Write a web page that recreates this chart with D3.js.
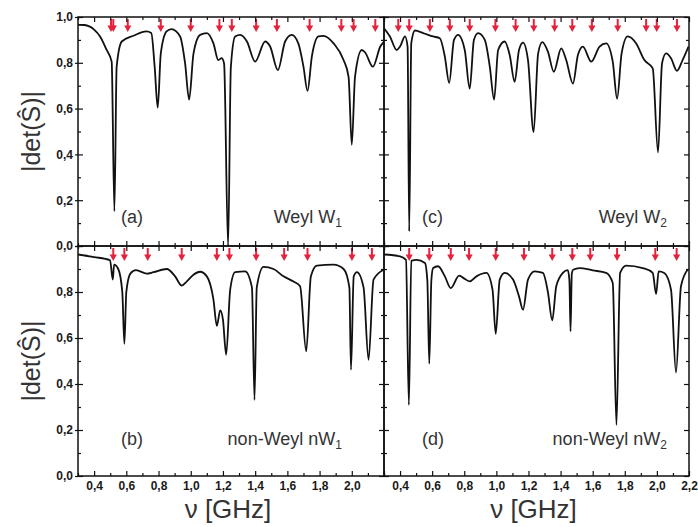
<!DOCTYPE html>
<html>
<head>
<meta charset="utf-8">
<script src="https://cdn.jsdelivr.net/npm/d3@7"></script>
<style>
  body { margin: 0; background: #fff; }
  svg { display: block; }
  text { font-family: Arial, "Liberation Sans", sans-serif; }
</style>
</head>
<body>
<div id="chart"></div>
<script>
// (a) Weyl W1 : frequency [GHz] and |det S|
var nuA  = [0.30, 0.34, 0.40, 0.437, 0.478, 0.509, 0.526, 0.54, 0.572, 0.644, 0.724, 0.755, 0.776, 0.795, 0.814, 0.85, 0.88, 0.934, 0.965, 0.99,
            1.017, 1.058, 1.10, 1.141, 1.171, 1.192, 1.207, 1.232, 1.249, 1.276, 1.307, 1.349, 1.40, 1.462, 1.493, 1.541, 1.586, 1.627, 1.668, 1.70,
            1.725, 1.752, 1.793, 1.824, 1.887, 1.949, 1.98, 2.00, 2.02, 2.062, 2.083, 2.131, 2.177, 2.20];
var detA = [0.966, 0.965, 0.945, 0.915, 0.856, 0.805, 0.152, 0.783, 0.893, 0.918, 0.937, 0.93, 0.783, 0.604, 0.84, 0.937, 0.947, 0.915, 0.797, 0.639,
            0.84, 0.922, 0.93, 0.885, 0.812, 0.82, 0.797, 0.0, 0.78, 0.915, 0.922, 0.893, 0.805, 0.893, 0.871, 0.768, 0.893, 0.922, 0.885, 0.783,
            0.677, 0.827, 0.915, 0.918, 0.885, 0.812, 0.739, 0.442, 0.739, 0.856, 0.845, 0.783, 0.871, 0.893];
var arrowsA = [0.505, 0.519, 0.609, 0.814, 1.000, 1.178, 1.255, 1.406, 1.535, 1.738, 1.935, 2.011, 2.146];

// (b) non-Weyl nW1
var nuB  = [0.30, 0.40, 0.499, 0.516, 0.524, 0.55, 0.575, 0.588, 0.60, 0.625, 0.66, 0.727, 0.768, 0.851, 0.903, 0.944, 0.976, 1.017, 1.058, 1.10,
            1.141, 1.162, 1.183, 1.20, 1.22, 1.245, 1.276, 1.338, 1.38, 1.396, 1.41, 1.452, 1.514, 1.576, 1.638, 1.679, 1.717, 1.746, 1.783, 1.887,
            1.949, 1.985, 1.995, 2.012, 2.032, 2.073, 2.104, 2.135, 2.198];
var detB = [0.963, 0.952, 0.938, 0.854, 0.919, 0.90, 0.80, 0.575, 0.80, 0.88, 0.895, 0.88, 0.886, 0.90, 0.868, 0.828, 0.846, 0.875, 0.888, 0.868,
            0.767, 0.653, 0.72, 0.68, 0.527, 0.81, 0.886, 0.89, 0.82, 0.331, 0.82, 0.909, 0.90, 0.868, 0.846, 0.825, 0.542, 0.868, 0.915, 0.919,
            0.90, 0.82, 0.462, 0.868, 0.886, 0.82, 0.505, 0.854, 0.897];
var arrowsB = [0.519, 0.588, 0.733, 0.944, 1.162, 1.24, 1.406, 1.58, 1.725, 2.001, 2.125];

// (c) Weyl W2
var nuC  = [0.30, 0.337, 0.379, 0.40, 0.431, 0.447, 0.457, 0.47, 0.493, 0.544, 0.606, 0.648, 0.679, 0.706, 0.736, 0.762, 0.803, 0.834, 0.86, 0.886,
            0.928, 0.959, 0.986, 1.011, 1.052, 1.083, 1.114, 1.141, 1.166, 1.197, 1.232, 1.26, 1.286, 1.321, 1.358, 1.404, 1.435, 1.477, 1.508, 1.539,
            1.591, 1.643, 1.684, 1.725, 1.752, 1.78, 1.818, 1.87, 1.922, 1.974, 2.007, 2.032, 2.057, 2.088, 2.125, 2.16, 2.197];
var detC = [0.951, 0.915, 0.856, 0.871, 0.915, 0.87, 0.064, 0.886, 0.941, 0.93, 0.915, 0.907, 0.827, 0.712, 0.90, 0.922, 0.856, 0.687, 0.90, 0.93,
            0.90, 0.783, 0.639, 0.856, 0.893, 0.834, 0.717, 0.856, 0.888, 0.812, 0.497, 0.84, 0.89, 0.849, 0.761, 0.863, 0.812, 0.709, 0.834, 0.871,
            0.805, 0.871, 0.885, 0.805, 0.643, 0.84, 0.915, 0.885, 0.812, 0.776, 0.409, 0.797, 0.841, 0.82, 0.765, 0.812, 0.871];
var arrowsC = [0.389, 0.457, 0.586, 0.71, 0.834, 0.994, 1.12, 1.233, 1.363, 1.473, 1.595, 1.756, 1.933, 1.999, 2.125];

// (d) non-Weyl nW2
var nuD  = [0.30, 0.40, 0.437, 0.455, 0.47, 0.503, 0.555, 0.57, 0.582, 0.595, 0.606, 0.637, 0.679, 0.716, 0.768, 0.803, 0.834, 0.876, 0.938, 0.976,
            0.996, 1.021, 1.052, 1.104, 1.141, 1.166, 1.197, 1.238, 1.29, 1.321, 1.348, 1.373, 1.414, 1.445, 1.455, 1.462, 1.47, 1.478, 1.518, 1.601,
            1.684, 1.725, 1.748, 1.771, 1.808, 1.912, 1.974, 1.995, 2.011, 2.046, 2.088, 2.119, 2.15, 2.191];
var detD = [0.963, 0.955, 0.94, 0.309, 0.935, 0.94, 0.926, 0.85, 0.488, 0.85, 0.904, 0.912, 0.868, 0.817, 0.871, 0.857, 0.846, 0.868, 0.883, 0.81,
            0.618, 0.854, 0.883, 0.854, 0.781, 0.723, 0.854, 0.89, 0.883, 0.80, 0.677, 0.825, 0.883, 0.895, 0.85, 0.629, 0.88, 0.897, 0.904, 0.894,
            0.883, 0.839, 0.222, 0.883, 0.915, 0.904, 0.883, 0.791, 0.89, 0.883, 0.81, 0.45, 0.825, 0.897];
var arrowsD = [0.457, 0.582, 0.716, 0.83, 0.996, 1.172, 1.348, 1.473, 1.585, 1.752, 1.99, 2.123];

// axis ticks
var xMajor = [0.4, 0.6, 0.8, 1.0, 1.2, 1.4, 1.6, 1.8, 2.0, 2.2];
var xMinor = [0.3, 0.5, 0.7, 0.9, 1.1, 1.3, 1.5, 1.7, 1.9, 2.1];
var yMajor = [0, 0.2, 0.4, 0.6, 0.8, 1.0];
var yMinor = [0.1, 0.3, 0.5, 0.7, 0.9];

var width = 698, height = 527;
var fmt = d3.formatLocale({decimal: ",", thousands: ".", grouping: [3], currency: ["", ""]}).format(".1f");

var svg = d3.select("#chart")
  .append("svg")
    .attr("width", width)
    .attr("height", height);

svg.append("rect").attr("width", width).attr("height", height).attr("fill", "#fff");

var cols = [[78, 384], [384, 689]];
var rows = [[246, 17], [476, 246]];

var panels = [
  {nu: nuA, det: detA, arrows: arrowsA, col: 0, row: 0, tag: "(a)", name: "Weyl W", sub: "1"},
  {nu: nuB, det: detB, arrows: arrowsB, col: 0, row: 1, tag: "(b)", name: "non-Weyl nW", sub: "1"},
  {nu: nuC, det: detC, arrows: arrowsC, col: 1, row: 0, tag: "(c)", name: "Weyl W", sub: "2"},
  {nu: nuD, det: detD, arrows: arrowsD, col: 1, row: 1, tag: "(d)", name: "non-Weyl nW", sub: "2"}
];

panels.forEach(function(p, i) {
  var x = d3.scaleLinear().domain([0.3, 2.2]).range(cols[p.col]);
  var y = d3.scaleLinear().domain([0, 1]).range(rows[p.row]);
  var g = svg.append("g");

  g.append("clipPath").attr("id", "clip" + i)
    .append("rect")
      .attr("x", x(0.3)).attr("y", y(1))
      .attr("width", x(2.2) - x(0.3)).attr("height", y(0) - y(1));

  // spectrum
  var pts = p.nu.map(function(v, k) { return [v, p.det[k]]; });
  var line = d3.line()
    .x(function(d) { return x(d[0]); })
    .y(function(d) { return y(d[1]); })
    .curve(d3.curveMonotoneX);
  g.append("path")
    .datum(pts)
    .attr("clip-path", "url(#clip" + i + ")")
    .attr("fill", "none")
    .attr("stroke", "#111")
    .attr("stroke-width", 1.8)
    .attr("stroke-linejoin", "round")
    .attr("d", line);

  // red arrows
  var top = y(1);
  g.selectAll("path.arrow")
    .data(p.arrows)
    .enter()
    .append("path")
      .attr("class", "arrow")
      .attr("fill", "#e5223d")
      .attr("d", function(d) {
        var cx = x(d);
        return "M" + (cx - 1) + "," + (top + 2) + "h2v6.5h2.6l-3.6,6.5l-3.6,-6.5h2.6z";
      });

  // axes
  function clean(sel) {
    sel.select(".domain").remove();
    sel.selectAll("line").attr("stroke", "#111").attr("stroke-width", 1.2);
    sel.selectAll("text")
      .attr("fill", "#1a1a1a")
      .style("font-family", "Arial, 'Liberation Sans', sans-serif")
      .style("font-size", "12px")
      .style("font-weight", "bold");
  }
  var xLabels = p.row === 1 ? function(d) { return (p.col === 0 && d > 2.1) ? "" : fmt(d); } : function() { return ""; };

  g.append("g").attr("transform", "translate(0," + y(0) + ")")
    .call(d3.axisBottom(x).tickValues(xMajor).tickSize(-5).tickPadding(5).tickFormat(xLabels)).call(clean);
  g.append("g").attr("transform", "translate(0," + y(0) + ")")
    .call(d3.axisBottom(x).tickValues(xMinor).tickSize(-3).tickFormat("")).call(clean);
  g.append("g").attr("transform", "translate(0," + y(1) + ")")
    .call(d3.axisTop(x).tickValues(xMajor).tickSize(-5).tickFormat("")).call(clean);
  g.append("g").attr("transform", "translate(0," + y(1) + ")")
    .call(d3.axisTop(x).tickValues(xMinor).tickSize(-3).tickFormat("")).call(clean);

  var yLabels = function(d) {
    if (p.col !== 0) return "";
    if (p.row === 1 && d > 0.9) return "";
    return fmt(d);
  };
  g.append("g").attr("transform", "translate(" + x(0.3) + ",0)")
    .call(d3.axisLeft(y).tickValues(yMajor).tickSize(-5).tickPadding(5).tickFormat(yLabels)).call(clean);
  g.append("g").attr("transform", "translate(" + x(0.3) + ",0)")
    .call(d3.axisLeft(y).tickValues(yMinor).tickSize(-3).tickFormat("")).call(clean);
  if (p.col === 0) {
    g.append("g").attr("transform", "translate(" + x(0.3) + ",0)")
      .call(d3.axisLeft(y).tickValues(yMajor).tickSize(3).tickFormat("")).call(clean);
  }
  g.append("g").attr("transform", "translate(" + x(2.2) + ",0)")
    .call(d3.axisRight(y).tickValues(yMajor).tickSize(-5).tickFormat("")).call(clean);
  g.append("g").attr("transform", "translate(" + x(2.2) + ",0)")
    .call(d3.axisRight(y).tickValues(yMinor).tickSize(-3).tickFormat("")).call(clean);

  // frame
  g.append("rect")
    .attr("x", x(0.3)).attr("y", y(1))
    .attr("width", x(2.2) - x(0.3)).attr("height", y(0) - y(1))
    .attr("fill", "none").attr("stroke", "#111").attr("stroke-width", 1.5);

  // panel tags
  var base = y(0) - (p.row === 0 ? 23 : 31);
  g.append("text")
    .attr("x", x(0.3) + (p.col === 0 ? 43 : 38)).attr("y", base)
    .attr("fill", "#333").style("font-size", "18px")
    .text(p.tag);
  var nm = g.append("text")
    .attr("x", x(2.2) - (p.col === 0 ? 42 : 22)).attr("y", base)
    .attr("text-anchor", "end")
    .attr("fill", "#333").style("font-size", "18px")
    .text(p.name);
  nm.append("tspan").attr("dy", 4).style("font-size", "12px").text(p.sub);

  // axis titles
  if (p.col === 0) {
    svg.append("text")
      .attr("transform", "translate(40," + ((y(0) + y(1)) / 2) + ") rotate(-90)")
      .attr("text-anchor", "middle")
      .attr("fill", "#333").style("font-size", "25px")
      .text("|det(Ŝ)|");
  }
  if (p.row === 1) {
    svg.append("text")
      .attr("x", (x(0.3) + x(2.2)) / 2 - 3).attr("y", 518)
      .attr("text-anchor", "middle")
      .attr("fill", "#333").style("font-size", "26px")
      .text("ν [GHz]");
  }
});
</script>
</body>
</html>
